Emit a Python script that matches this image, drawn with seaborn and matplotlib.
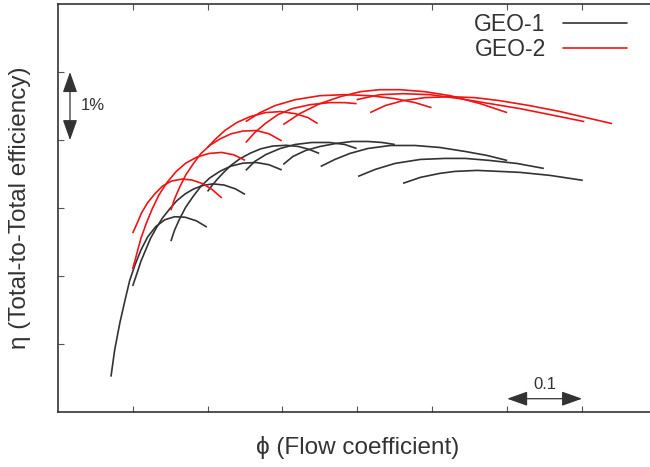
import numpy as np
import pandas as pd
import seaborn as sns
import matplotlib
matplotlib.use("Agg")
import matplotlib.pyplot as plt

# Speed lines of the two geometries: flow coefficient (phi) and
# total-to-total efficiency (eta, %), one pair of lists per speed line.
geo1_phi = [
    [0.071, 0.076, 0.083, 0.090, 0.096, 0.103, 0.111, 0.120, 0.131, 0.143, 0.156, 0.170, 0.185, 0.199],
    [0.100, 0.106, 0.111, 0.118, 0.124, 0.132, 0.140, 0.150, 0.159, 0.170, 0.181, 0.193, 0.207, 0.222, 0.237, 0.250],
    [0.151, 0.156, 0.163, 0.171, 0.181, 0.191, 0.203, 0.217, 0.231, 0.247, 0.265, 0.282, 0.299],
    [0.200, 0.206, 0.213, 0.221, 0.231, 0.243, 0.257, 0.271, 0.287, 0.305, 0.321, 0.335, 0.349],
    [0.251, 0.263, 0.278, 0.297, 0.317, 0.339, 0.363, 0.383, 0.399],
    [0.301, 0.314, 0.331, 0.350, 0.371, 0.393, 0.414, 0.433, 0.450],
    [0.351, 0.370, 0.390, 0.414, 0.444, 0.477, 0.510, 0.544, 0.573, 0.600],
    [0.401, 0.424, 0.450, 0.484, 0.517, 0.544, 0.577, 0.613, 0.649],
    [0.461, 0.484, 0.510, 0.530, 0.560, 0.590, 0.617, 0.657, 0.701],
]
geo1_eta = [
    [79.524, 79.920, 80.322, 80.659, 80.937, 81.164, 81.384, 81.578, 81.731, 81.830, 81.874, 81.867, 81.814, 81.722],
    [80.857, 81.050, 81.220, 81.403, 81.560, 81.718, 81.859, 81.997, 82.110, 82.209, 82.280, 82.332, 82.357, 82.340, 82.284, 82.203],
    [81.515, 81.679, 81.851, 82.018, 82.177, 82.320, 82.445, 82.545, 82.617, 82.661, 82.671, 82.638, 82.562],
    [82.247, 82.334, 82.426, 82.520, 82.627, 82.725, 82.808, 82.872, 82.913, 82.924, 82.907, 82.866, 82.805],
    [82.555, 82.687, 82.789, 82.877, 82.936, 82.965, 82.965, 82.936, 82.877],
    [82.643, 82.760, 82.848, 82.906, 82.950, 82.980, 82.980, 82.965, 82.936],
    [82.613, 82.716, 82.804, 82.877, 82.921, 82.921, 82.892, 82.833, 82.775, 82.701],
    [82.467, 82.570, 82.657, 82.716, 82.731, 82.731, 82.701, 82.657, 82.584],
    [82.365, 82.452, 82.511, 82.540, 82.555, 82.540, 82.526, 82.482, 82.409],
]

geo2_phi = [
    [0.100, 0.106, 0.112, 0.120, 0.130, 0.140, 0.152, 0.166, 0.179, 0.193, 0.206, 0.219],
    [0.100, 0.106, 0.111, 0.118, 0.126, 0.135, 0.146, 0.158, 0.171, 0.186, 0.202, 0.219, 0.235, 0.250],
    [0.151, 0.156, 0.163, 0.171, 0.181, 0.191, 0.203, 0.217, 0.231, 0.247, 0.265, 0.282, 0.299],
    [0.200, 0.210, 0.223, 0.239, 0.257, 0.277, 0.297, 0.317, 0.334, 0.347],
    [0.251, 0.263, 0.277, 0.294, 0.313, 0.337, 0.363, 0.383, 0.399],
    [0.251, 0.270, 0.290, 0.317, 0.350, 0.383, 0.417, 0.450, 0.477, 0.499],
    [0.301, 0.323, 0.350, 0.377, 0.404, 0.430, 0.457, 0.490, 0.524, 0.564, 0.600],
    [0.399, 0.430, 0.461, 0.497, 0.537, 0.577, 0.617, 0.657, 0.703],
    [0.417, 0.437, 0.461, 0.490, 0.524, 0.557, 0.590, 0.630, 0.671, 0.711, 0.740],
]
geo2_eta = [
    [81.633, 81.779, 81.933, 82.082, 82.215, 82.326, 82.399, 82.428, 82.414, 82.362, 82.275, 82.150],
    [81.105, 81.351, 81.556, 81.772, 81.988, 82.193, 82.380, 82.538, 82.663, 82.751, 82.804, 82.819, 82.784, 82.703],
    [81.969, 82.139, 82.315, 82.490, 82.654, 82.801, 82.923, 83.020, 83.091, 83.133, 83.141, 83.093, 82.988],
    [82.892, 83.009, 83.141, 83.258, 83.346, 83.404, 83.419, 83.389, 83.331, 83.243],
    [82.965, 83.111, 83.243, 83.375, 83.463, 83.521, 83.551, 83.551, 83.536],
    [83.272, 83.404, 83.507, 83.594, 83.653, 83.668, 83.653, 83.609, 83.551, 83.477],
    [83.228, 83.389, 83.536, 83.638, 83.712, 83.741, 83.741, 83.712, 83.653, 83.536, 83.404],
    [83.594, 83.668, 83.682, 83.668, 83.609, 83.536, 83.463, 83.375, 83.272],
    [83.404, 83.507, 83.580, 83.624, 83.638, 83.624, 83.580, 83.507, 83.419, 83.316, 83.243],
]

geometries = ["GEO-1", "GEO-2"]
x_ticks = [0.1, 0.2, 0.3, 0.4, 0.5, 0.6, 0.7]
y_ticks = [80, 81, 82, 83, 84]

# Long-format table: one row per point, grouped by geometry and speed line
rows = []
for geo, phis, etas in zip(geometries, [geo1_phi, geo2_phi], [geo1_eta, geo2_eta]):
    for k, (p, e) in enumerate(zip(phis, etas)):
        for pi, ei in zip(p, e):
            rows.append({"geometry": geo, "speed": f"{geo}-{k}", "phi": pi, "eta": ei})
df = pd.DataFrame(rows)

sns.set_style("ticks")
plt.rcParams["font.family"] = ["Liberation Sans", "DejaVu Sans"]
text_color = "#333333"

fig = plt.figure(figsize=(6.5, 4.67), dpi=100)
ax = fig.add_axes([0.0889, 0.1171, 0.9218, 0.8743])

palette = {"GEO-1": "#333333", "GEO-2": "#f01414"}
sns.lineplot(data=df, x="phi", y="eta", hue="geometry", units="speed",
             estimator=None, sort=False, palette=palette, lw=1.2, ax=ax,
             legend=False)
for line in ax.get_lines():
    line.set_solid_joinstyle("round")
    line.set_solid_capstyle("butt")

ax.set_xlim(0, 0.8)
ax.set_ylim(79, 85)
ax.set_xticks(x_ticks)
ax.set_yticks(y_ticks)
ax.tick_params(direction="in", length=4, width=0.8, color="#555555",
               top=True, right=False, labelbottom=False, labelleft=False)
for side in ["left", "bottom", "top"]:
    ax.spines[side].set_color(text_color)
    ax.spines[side].set_linewidth(1.2)
ax.spines["right"].set_visible(False)

ax.set_xlabel("ϕ (Flow coefficient)", fontsize=17.5, color=text_color, labelpad=17)
ax.set_ylabel("η (Total-to-Total efficiency)", fontsize=17.5, color=text_color, labelpad=19)

# Scale bars: 1 % of efficiency and 0.1 of flow coefficient
arrow_kw = dict(arrowstyle="<|-|>,head_length=0.9,head_width=0.32",
                color=text_color, lw=0.9, shrinkA=0, shrinkB=0,
                mutation_scale=14)
ax.annotate("", xy=(0.0163, y_ticks[4]), xytext=(0.0163, y_ticks[3]),
            arrowprops=arrow_kw)
ax.text(0.047, (y_ticks[3] + y_ticks[4]) / 2 + 0.01, "1%", fontsize=12,
        color=text_color, ha="center", va="center")
ax.annotate("", xy=(x_ticks[5], 79.20), xytext=(x_ticks[6], 79.20),
            arrowprops=arrow_kw)
ax.text((x_ticks[5] + x_ticks[6]) / 2, 79.41, "0.1", fontsize=12,
        color=text_color, ha="center", va="center")

# Legend with labels left of the line samples
handles = [plt.Line2D([], [], color=palette[g], lw=1.2) for g in geometries]
leg = ax.legend(handles, geometries, loc="upper right", markerfirst=False,
                frameon=False, fontsize=16.5, handlelength=2.8, handletextpad=0.75,
                labelspacing=0.07, borderpad=0, borderaxespad=0,
                bbox_to_anchor=(627 / 650, 1 - 13 / 467),
                bbox_transform=fig.transFigure)
for t in leg.get_texts():
    t.set_color(text_color)

fig.savefig("out.png", dpi=100)
